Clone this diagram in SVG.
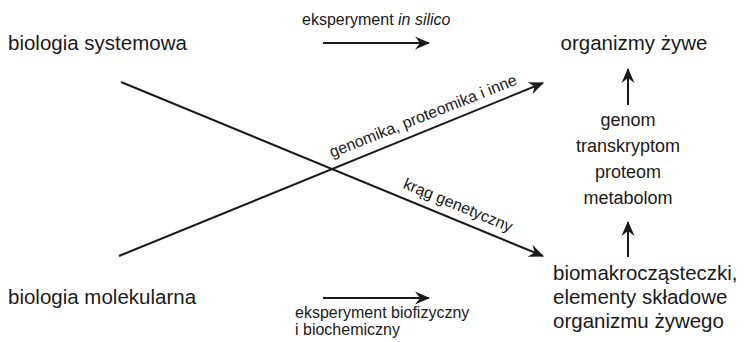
<svg xmlns="http://www.w3.org/2000/svg" width="744" height="342" viewBox="0 0 744 342">
<defs>
<marker id="ah" viewBox="-16 -7 18 14" markerWidth="18" markerHeight="14" refX="0" refY="0" orient="auto" markerUnits="userSpaceOnUse">
<path d="M1,0 L-14,-6.5 L-9,0 L-14,6.5 Z" fill="#1a1a1a"/>
</marker>
<style>
text{font-family:"Liberation Sans",Arial,sans-serif;fill:#1a1a1a}
.big{font-size:20.5px}
.mid{font-size:18px}
.sm{font-size:16px}
.ln{stroke:#1a1a1a;stroke-width:2;fill:none;marker-end:url(#ah)}
</style>
</defs>
<g id="n-systemowa"><text class="big" x="8" y="50">biologia systemowa</text></g>
<g id="n-molekularna"><text class="big" x="8" y="304">biologia molekularna</text></g>
<g id="n-organizmy"><text class="big" x="634" y="50" text-anchor="middle">organizmy żywe</text></g>
<g id="n-omiki" class="mid">
<text x="628" y="126" text-anchor="middle">genom</text>
<text x="628" y="152" text-anchor="middle">transkryptom</text>
<text x="628" y="178" text-anchor="middle">proteom</text>
<text x="628" y="204" text-anchor="middle">metabolom</text>
</g>
<g id="n-biomakro" class="big">
<text x="553" y="280">biomakrocząsteczki,</text>
<text x="553" y="304">elementy składowe</text>
<text x="553" y="328">organizmu żywego</text>
</g>
<g id="connectors">
<line class="ln" x1="323" y1="43" x2="429" y2="43"/>
<line class="ln" x1="323" y1="298" x2="429" y2="298"/>
<line class="ln" x1="121" y1="82" x2="543" y2="256"/>
<line class="ln" x1="119" y1="256" x2="543" y2="83"/>
<line class="ln" x1="628" y1="105" x2="628" y2="69"/>
<line class="ln" x1="628" y1="257" x2="628" y2="222"/>
</g>
<g id="labels" class="sm">
<text x="302" y="25">eksperyment <tspan font-style="italic">in silico</tspan></text>
<text x="295" y="318">eksperyment biofizyczny</text>
<text x="295" y="335">i biochemiczny</text>
<text x="425" y="121" text-anchor="middle" transform="rotate(-21.5 425 121)">genomika, proteomika i inne</text>
<text x="456" y="210" text-anchor="middle" transform="rotate(22.4 456 210)">krąg genetyczny</text>
</g>
</svg>
